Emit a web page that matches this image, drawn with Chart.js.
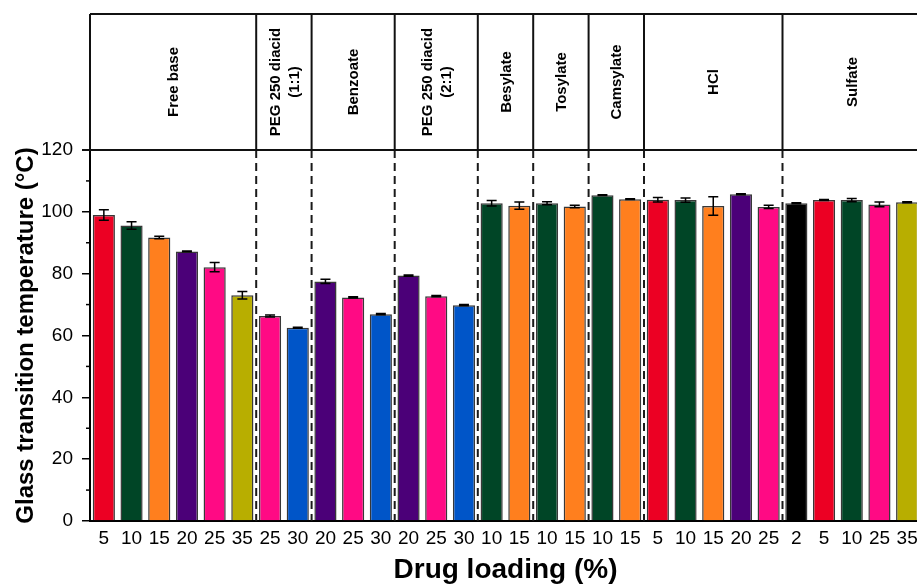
<!DOCTYPE html>
<html>
<head>
<meta charset="utf-8">
<script src="https://cdn.jsdelivr.net/npm/chart.js@4/dist/chart.umd.min.js"></script>
<style>
  html, body { margin: 0; padding: 0; background: #fff; overflow: hidden; }
  #wrap { width: 917px; height: 587px; overflow: hidden; }
  canvas { display: block; }
</style>
</head>
<body>
<div id="wrap"><canvas id="tg" width="921" height="587"></canvas></div>
<script>
// Salt / co-former groups and how many loadings each one has
const groupNames = ['Free base', 'PEG 250 diacid\n(1:1)', 'Benzoate', 'PEG 250 diacid\n(2:1)',
                    'Besylate', 'Tosylate', 'Camsylate', 'HCl', 'Sulfate'];
const groupSizes = [6, 2, 3, 3, 2, 2, 2, 5, 5];

// Drug loading (%) of every bar, left to right
const loadings = ['5', '10', '15', '20', '25', '35',
                  '25', '30',
                  '20', '25', '30',
                  '20', '25', '30',
                  '10', '15',
                  '10', '15',
                  '10', '15',
                  '5', '10', '15', '20', '25',
                  '2', '5', '10', '25', '35'];

// Glass transition temperature (°C), mean and standard deviation
const tgMean = [99.0, 95.6, 91.7, 87.2, 82.1, 73.0,
                66.3, 62.5,
                77.5, 72.3, 66.9,
                79.4, 72.7, 69.8,
                102.8, 102.0,
                102.8, 101.7,
                105.4, 104.1,
                103.9, 103.8, 101.9, 105.7, 101.6,
                102.8, 103.8, 103.8, 102.4, 103.1];
const tgSd = [1.7, 1.2, 0.4, 0.15, 1.5, 1.2,
              0.3, 0.15,
              0.7, 0.2, 0.2,
              0.2, 0.2, 0.2,
              0.9, 1.2,
              0.5, 0.4,
              0.15, 0.15,
              0.75, 0.7, 3.0, 0.15, 0.5,
              0.15, 0.15, 0.5, 0.75, 0.15];

// One colour per drug loading
const loadingColour = {
  '2': '#000000', '5': '#EC0023', '10': '#004526', '15': '#FF7F1E',
  '20': '#4B0078', '25': '#FF0A84', '30': '#0055C8', '35': '#B8AE00'
};

const FONT = '"Liberation Sans", Arial, sans-serif';
const HEADER_TOP = 14;

// Index ranges of the groups
function groupRanges() {
  const out = [];
  let start = 0;
  groupSizes.forEach((n, i) => { out.push({ name: groupNames[i], start, end: start + n - 1 }); start += n; });
  return out;
}

const headerPlugin = {
  id: 'groupHeader',
  beforeDatasetsDraw(chart) {
    // dashed separators between groups inside the plot
    const { ctx, chartArea, scales: { x } } = chart;
    const ranges = groupRanges();
    ctx.save();
    ctx.strokeStyle = '#1a1a1a';
    ctx.lineWidth = 2;
    ctx.setLineDash([8, 5]);
    for (let g = 0; g < ranges.length - 1; g++) {
      const xb = (x.getPixelForValue(ranges[g].end) + x.getPixelForValue(ranges[g + 1].start)) / 2;
      ctx.beginPath();
      ctx.moveTo(xb, chartArea.top);
      ctx.lineTo(xb, chartArea.bottom);
      ctx.stroke();
    }
    ctx.restore();
  },
  afterDatasetsDraw(chart) {
    // error bars
    const { ctx, scales: { y } } = chart;
    const meta = chart.getDatasetMeta(0);
    ctx.save();
    ctx.strokeStyle = '#000';
    ctx.lineWidth = 1.5;
    meta.data.forEach((bar, i) => {
      const cx = bar.x;
      const yHi = y.getPixelForValue(tgMean[i] + tgSd[i]);
      const yLo = y.getPixelForValue(tgMean[i] - tgSd[i]);
      const hw = 5;
      ctx.beginPath();
      ctx.moveTo(cx, yHi); ctx.lineTo(cx, yLo);
      ctx.moveTo(cx - hw, yHi); ctx.lineTo(cx + hw, yHi);
      ctx.moveTo(cx - hw, yLo); ctx.lineTo(cx + hw, yLo);
      ctx.stroke();
    });
    ctx.restore();
  },
  afterDraw(chart) {
    const { ctx, chartArea, scales: { x, y } } = chart;
    const ranges = groupRanges();
    ctx.save();
    // minor ticks on the y axis
    ctx.strokeStyle = '#000';
    ctx.lineWidth = 1.5;
    for (let v = 10; v < 120; v += 20) {
      const py = y.getPixelForValue(v);
      ctx.beginPath();
      ctx.moveTo(chartArea.left - 4, py);
      ctx.lineTo(chartArea.left, py);
      ctx.stroke();
    }
    // header box with the group names
    ctx.strokeStyle = '#111';
    ctx.lineWidth = 2;
    ctx.beginPath();
    ctx.moveTo(chartArea.left, HEADER_TOP);
    ctx.lineTo(chartArea.right, HEADER_TOP);
    ctx.moveTo(chartArea.left - 8, chartArea.top);
    ctx.lineTo(chartArea.right, chartArea.top);
    ctx.moveTo(chartArea.left, HEADER_TOP);
    ctx.lineTo(chartArea.left, chartArea.top);
    ctx.stroke();
    const midY = (HEADER_TOP + chartArea.top) / 2;
    ctx.fillStyle = '#000';
    ctx.font = 'bold 15px ' + FONT;
    ctx.textAlign = 'center';
    ctx.textBaseline = 'middle';
    ranges.forEach((r, g) => {
      const x0 = g === 0 ? chartArea.left
        : (x.getPixelForValue(ranges[g - 1].end) + x.getPixelForValue(r.start)) / 2;
      const x1 = g === ranges.length - 1 ? chartArea.right
        : (x.getPixelForValue(r.end) + x.getPixelForValue(ranges[g + 1].start)) / 2;
      if (g > 0) {
        ctx.beginPath();
        ctx.moveTo(x0, HEADER_TOP);
        ctx.lineTo(x0, chartArea.top);
        ctx.stroke();
      }
      const lines = r.name.split('\n');
      const lh = 19;
      const cx = (x0 + x1) / 2;
      ctx.save();
      ctx.translate(cx, midY);
      ctx.rotate(-Math.PI / 2);
      lines.forEach((t, k) => {
        ctx.fillText(t, 0, (k - (lines.length - 1) / 2) * lh + 1);
      });
      ctx.restore();
    });
    ctx.restore();
  }
};

new Chart(document.getElementById('tg'), {
  type: 'bar',
  data: {
    labels: loadings,
    datasets: [{
      data: tgMean,
      backgroundColor: loadings.map(l => loadingColour[l]),
      borderColor: '#383838',
      borderWidth: 1.5,
      barPercentage: 0.8,
      categoryPercentage: 1.0
    }]
  },
  options: {
    responsive: false,
    animation: false,
    layout: { padding: { top: 150, left: 0, right: 0, bottom: 0 } },
    plugins: { legend: { display: false }, tooltip: { enabled: false } },
    scales: {
      x: {
        type: 'category',
        afterFit(s) { s.height = 66; },
        grid: { display: false },
        border: { display: true, color: '#000', width: 2 },
        ticks: { color: '#000', font: { family: FONT, size: 19 }, padding: -2, maxRotation: 0, autoSkip: false },
        title: {
          display: true, text: 'Drug loading (%)', color: '#000',
          font: { family: FONT, size: 28, weight: 'bold', lineHeight: 1 },
          padding: { top: 0, bottom: 3 }
        }
      },
      y: {
        min: 0, max: 120,
        afterFit(s) { s.width = 90; },
        grid: { drawOnChartArea: false, drawTicks: true, tickLength: 8, color: '#000', lineWidth: 1.5 },
        border: { display: true, color: '#000', width: 2 },
        ticks: { stepSize: 20, color: '#000', font: { family: FONT, size: 19 }, padding: 9 },
        title: {
          display: true, text: 'Glass transition temperature (°C)', color: '#000',
          font: { family: FONT, size: 24, weight: 'bold', lineHeight: 1 },
          padding: { top: 14, bottom: 0 }
        }
      }
    }
  },
  plugins: [headerPlugin]
});
</script>
</body>
</html>
